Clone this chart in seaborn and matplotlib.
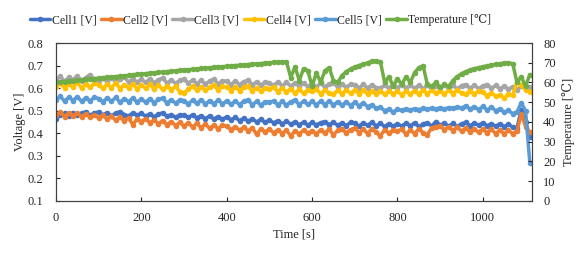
import numpy as np
import pandas as pd
import matplotlib
matplotlib.use("Agg")
import matplotlib.pyplot as plt
import seaborn as sns

# time axis, one reading every 10 s
time_s = np.arange(0, 1120, 10)

cell1 = [.465, .480, .488, .476, .492, .481, .489, .495, .479, .490,
         .494, .482, .491, .478, .489, .496, .483, .477, .490, .481,
         .488, .476, .486, .473, .484, .491, .475, .483, .470, .482,
         .480, .470, .482, .468, .478, .465, .477, .463, .474, .462,
         .473, .460, .470, .456, .467, .454, .464, .450, .462, .448,
         .459, .446, .456, .442, .453, .440, .451, .438, .449, .436,
         .448, .437, .447, .452, .438, .449, .435, .446, .434, .448,
         .444, .432, .446, .435, .448, .433, .444, .430, .443, .431,
         .442, .432, .445, .433, .446, .430, .441, .447, .432, .452,
         .436, .445, .431, .444, .430, .442, .448, .433, .445, .436,
         .446, .433, .443, .431, .442, .430, .440, .427, .424, .505,
         .450, .385]

cell2 = [.480, .494, .474, .490, .478, .489, .473, .486, .470, .483,
         .468, .481, .462, .475, .458, .472, .455, .468, .438, .463,
         .452, .465, .446, .459, .442, .456, .438, .452, .434, .448,
         .432, .446, .428, .444, .425, .440, .422, .437, .420, .435,
         .431, .416, .430, .413, .427, .410, .425, .395, .420, .406,
         .418, .402, .415, .399, .413, .388, .411, .397, .414, .400,
         .412, .397, .415, .401, .418, .392, .413, .421, .401, .416,
         .423, .403, .418, .398, .421, .404, .388, .416, .400, .415,
         .410, .418, .396, .414, .399, .419, .403, .394, .424, .428,
         .432, .416, .429, .412, .427, .409, .424, .406, .421, .404,
         .419, .402, .417, .399, .414, .397, .413, .398, .410, .485,
         .430, .405]

cell3 = [.635, .652, .630, .648, .638, .655, .633, .647, .660, .636,
         .632, .647, .629, .644, .628, .642, .650, .627, .641, .626,
         .640, .625, .642, .623, .637, .645, .622, .636, .621, .634,
         .639, .622, .636, .620, .634, .618, .632, .640, .619, .633,
         .630, .616, .632, .615, .629, .635, .614, .628, .613, .627,
         .624, .612, .628, .610, .625, .609, .623, .608, .622, .607,
         .620, .606, .622, .605, .619, .624, .604, .618, .603, .617,
         .614, .601, .617, .600, .615, .602, .599, .614, .600, .615,
         .602, .616, .600, .614, .599, .613, .598, .612, .597, .611,
         .600, .614, .598, .612, .597, .611, .616, .599, .613, .598,
         .610, .616, .599, .612, .597, .609, .595, .607, .592, .609,
         .598, .603]

cell4 = [.606, .622, .602, .619, .604, .625, .600, .617, .603, .621,
         .615, .599, .618, .602, .623, .598, .616, .601, .619, .597,
         .614, .599, .617, .596, .612, .594, .610, .593, .608, .584,
         .580, .594, .609, .591, .607, .590, .605, .612, .592, .608,
         .604, .589, .606, .588, .603, .609, .587, .602, .586, .601,
         .598, .603, .585, .600, .583, .598, .578, .594, .577, .592,
         .589, .594, .576, .592, .578, .573, .590, .575, .591, .577,
         .592, .576, .590, .574, .589, .573, .587, .572, .588, .574,
         .586, .571, .587, .573, .589, .574, .590, .575, .591, .577,
         .589, .574, .590, .576, .592, .577, .573, .589, .574, .588,
         .582, .567, .580, .564, .570, .556, .572, .569, .630, .612,
         .592, .582]

cell5 = [.546, .564, .542, .560, .545, .562, .541, .558, .543, .560,
         .554, .539, .557, .541, .559, .537, .554, .540, .556, .538,
         .552, .537, .554, .535, .550, .556, .534, .549, .533, .548,
         .545, .530, .547, .532, .549, .529, .545, .531, .547, .530,
         .544, .528, .543, .527, .542, .548, .526, .541, .525, .540,
         .538, .543, .526, .541, .525, .540, .546, .527, .542, .528,
         .541, .526, .542, .527, .543, .525, .540, .524, .539, .523,
         .537, .522, .535, .518, .526, .510, .515, .500, .507, .494,
         .506, .501, .508, .503, .509, .505, .510, .506, .512, .507,
         .513, .508, .514, .510, .516, .512, .522, .507, .518, .505,
         .519, .503, .516, .500, .508, .494, .501, .487, .495, .535,
         .500, .270]

temperature = [60.0, 60.3, 60.5, 60.7, 60.9, 61.2, 61.4, 61.6, 61.8, 62.0,
               62.2, 62.4, 62.6, 62.8, 63.0, 63.2, 63.4, 63.6, 63.9, 64.1,
               64.3, 64.5, 64.7, 64.9, 65.1, 65.3, 65.5, 65.7, 65.9, 66.1,
               66.3, 66.5, 66.7, 66.9, 67.1, 67.3, 67.5, 67.6, 67.8, 68.0,
               68.2, 68.4, 68.6, 68.7, 68.9, 69.1, 69.3, 69.4, 69.6, 69.8,
               70.0, 70.2, 70.3, 70.4, 70.5, 62.5, 68.0, 61.0, 67.0, 66.0,
               58.0, 65.0, 60.0, 66.0, 67.5, 61.0, 60.0, 63.5, 65.5, 66.8,
               67.8, 68.6, 69.3, 70.0, 70.7, 71.0, 70.5, 60.0, 63.0, 58.0,
               62.0, 59.0, 63.0, 60.0, 65.0, 67.5, 68.5, 59.0, 58.0, 60.0,
               57.5, 59.0, 58.0, 61.0, 63.0, 64.5, 65.5, 66.3, 67.0, 67.5,
               68.0, 68.4, 68.8, 69.2, 69.5, 69.8, 70.0, 69.5, 60.0, 63.0,
               58.0, 64.0]

cells = {
    "Cell1 [V]": (cell1, "#4472C4"),
    "Cell2 [V]": (cell2, "#ED7D31"),
    "Cell3 [V]": (cell3, "#A5A5A5"),
    "Cell4 [V]": (cell4, "#FFC000"),
    "Cell5 [V]": (cell5, "#5B9BD5"),
}

sns.set_style("ticks")
plt.rcParams["font.family"] = ["Liberation Serif", "DejaVu Serif"]
plt.rcParams["font.size"] = 9

fig = plt.figure(figsize=(5.82, 2.54), dpi=100)
ax = fig.add_axes([0.0962, 0.2087, 0.8178, 0.622])

for name, (vals, col) in cells.items():
    sns.lineplot(x=time_s, y=vals, ax=ax, color=col, lw=2.5, marker="o",
                 markersize=4, markeredgewidth=0, label=name, legend=False)

ax2 = ax.twinx()
sns.lineplot(x=time_s, y=temperature, ax=ax2, color="#70AD47", lw=2.5, marker="o",
             markersize=4, markeredgewidth=0, label="Temperature [\u2103]", legend=False)

ax.set_xlim(0, 1115)
ax.set_ylim(0.1, 0.8)
ax.set_yticks(np.arange(0.1, 0.81, 0.1))
ax.set_xticks([0, 200, 400, 600, 800, 1000])
ax2.set_ylim(0, 80)
ax2.set_yticks(range(0, 81, 10))

ax.set_xlabel("Time [s]", fontsize=9, labelpad=3.5)
ax.set_ylabel("Voltage [V]", fontsize=9, labelpad=1)
ax2.set_ylabel("Temperature [\u2103]", fontsize=9, labelpad=4.5)

ax.tick_params(axis="y", direction="in", length=3, width=0.8, labelsize=9, pad=9)
ax.tick_params(axis="x", direction="in", length=3, width=0.8, labelsize=9, pad=8)
ax2.tick_params(axis="y", direction="in", length=3, width=0.8, labelsize=9, pad=8)
for a in (ax, ax2):
    for sp in a.spines.values():
        sp.set_color("#404040")
        sp.set_linewidth(0.8)
        sp.set_visible(True)

handles = ax.get_lines()[:5] + ax2.get_lines()[:1]
labels = list(cells.keys()) + ["Temperature [\u2103]"]
fig.legend(handles, labels, loc="center left", bbox_to_anchor=(25 / 582, 0.921), ncol=6,
           frameon=False, fontsize=8.5, handlelength=1.75, handletextpad=0.1,
           columnspacing=0.4, borderaxespad=0)

fig.savefig("out.png", dpi=100)
